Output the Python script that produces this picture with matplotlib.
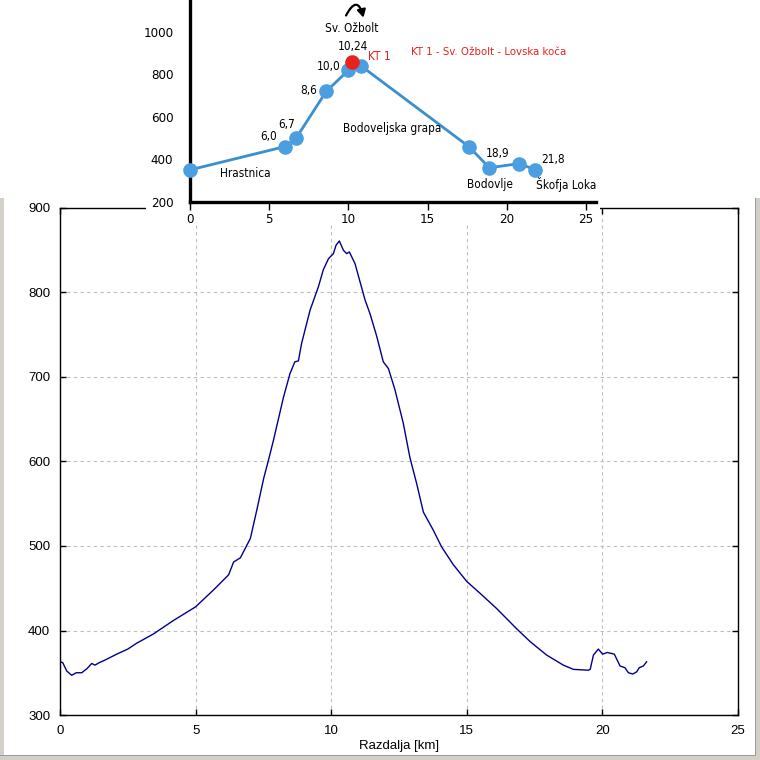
import matplotlib
matplotlib.use("Agg")
import matplotlib.pyplot as plt
from matplotlib.patches import Rectangle

# elevation profile (bottom chart)
profile_km = [0.0, 0.1, 0.25, 0.43, 0.6, 0.8, 1.0, 1.17, 1.29, 1.45, 1.66, 2.09, 2.5,
              2.83, 3.45, 4.19, 5.0, 5.66, 6.22, 6.40, 6.65, 7.02, 7.26, 7.51, 7.69,
              7.87, 8.24, 8.48, 8.66, 8.79, 8.91, 9.22, 9.53, 9.71, 9.90, 10.08, 10.18,
              10.30, 10.45, 10.57, 10.67, 10.88, 11.06, 11.25, 11.43, 11.68, 11.92,
              12.11, 12.35, 12.66, 12.90, 13.15, 13.40, 13.76, 14.07, 14.50, 15.0,
              15.49, 16.10, 16.84, 17.33, 17.94, 18.56, 18.93, 19.48, 19.55, 19.67,
              19.85, 20.01, 20.18, 20.44, 20.65, 20.83, 20.96, 21.12, 21.26, 21.36,
              21.51, 21.63]
profile_m = [363, 362, 352, 347, 350, 350, 355, 361, 359, 362, 365, 372, 378,
             385, 396, 412, 428, 448, 466, 481, 486, 509, 543, 580, 602,
             625, 676, 704, 718, 719, 740, 779, 807, 827, 840, 846, 856,
             861, 850, 846, 848, 834, 813, 791, 775, 748, 718,
             710, 685, 645, 605, 574, 540, 519, 499, 478, 458,
             444, 426, 402, 387, 371, 359, 354, 353, 354, 371,
             378, 372, 374, 372, 358, 356, 350, 348.5, 351, 356,
             358, 363]
profile_xticks = [0, 5, 10, 15, 20, 25]
profile_yticks = [300, 400, 500, 600, 700, 800, 900]

# schematic route (inset)
route_km = [0, 6.0, 6.7, 8.6, 10.0, 10.8, 17.6, 18.9, 20.8, 21.8]
route_m = [350, 460, 500, 720, 820, 840, 460, 360, 380, 350]
kt_km, kt_m = 10.24, 860
route_labels = {1: "6,0", 2: "6,7", 3: "8,6", 4: "10,0", 7: "18,9", 9: "21,8"}
label_offsets = {1: (-16, 10), 2: (-10, 14), 3: (-18, 1), 4: (-20, 4), 7: (8, 14), 9: (18, 10)}
inset_xticks = [0, 5, 10, 15, 20, 25]
inset_yticks = [200, 400, 600, 800, 1000]

W = H = 760
fig = plt.figure(figsize=(7.6, 7.6), dpi=100)
fig.patch.set_facecolor("white")


def fbox(x0, y0, x1, y1):
    # pixel box (top-left origin) -> figure fraction rect
    return [x0 / W, 1 - y1 / H, (x1 - x0) / W, (y1 - y0) / H]


# ---- bottom chart ----
ax = fig.add_axes(fbox(60, 208, 738, 715))
ax.plot(profile_km, profile_m, color="#00008b", lw=1.0)
ax.set_xlim(0, 25)
ax.set_ylim(300, 900)
ax.set_xticks(profile_xticks)
ax.set_yticks(profile_yticks)
ax.grid(True, color="#bdbdbd", linestyle=(0, (3, 3)), linewidth=0.8)
ax.tick_params(direction="in", top=True, right=True, length=4, width=1,
               labelsize=9.5, pad=7, labelfontfamily="Liberation Sans")
for s in ax.spines.values():
    s.set_linewidth(1.0)
ax.set_xlabel("Razdalja [km]", fontsize=9.5, family="Liberation Sans", labelpad=2)

# white sheet behind the pasted inset
fig.patches.append(Rectangle((146 / W, 1 - 222 / H), (600 - 146) / W, 222 / H,
                             transform=fig.transFigure, facecolor="white",
                             edgecolor="none", zorder=1))

# window frame
frame = [((0, 198, 4, 760), "#d4d0c8"), ((755, 198, 760, 760), "#d4d0c8"),
         ((0, 755, 760, 760), "#d4d0c8"), ((755, 198, 756, 756), "#9a9a9a"),
         ((0, 755, 756, 756), "#9a9a9a")]
for (x0, y0, x1, y1), c in frame:
    fig.patches.append(Rectangle((x0 / W, 1 - y1 / H), (x1 - x0) / W, (y1 - y0) / H,
                                 transform=fig.transFigure, facecolor=c,
                                 edgecolor="none", zorder=1))

# ---- inset ----
nar = "DejaVu Sans"
ia = fig.add_axes(fbox(190, 0, 595.5, 201.7), zorder=2)
ia.patch.set_alpha(0)
ia.set_xlim(0, 25.6)
ia.set_ylim(200, 1151)
ia.plot(route_km, route_m, color="#3a8fd0", lw=2, marker="o", ms=9.5,
        mfc="#4b9fe0", mec="#4b9fe0", clip_on=False, zorder=3)
ia.plot([kt_km], [kt_m], "o", ms=9.5, color="#e8231b", clip_on=False, zorder=4)
for s in ["top", "right"]:
    ia.spines[s].set_visible(False)
for s in ["left", "bottom"]:
    ia.spines[s].set_linewidth(2.4)
ia.set_xticks(inset_xticks)
ia.set_yticks(inset_yticks)
ia.tick_params(axis="x", direction="out", length=6, width=1, pad=2)
ia.tick_params(axis="y", length=0, pad=12)
for lbl in ia.get_xticklabels() + ia.get_yticklabels():
    lbl.set_family(nar)
    lbl.set_fontstretch("condensed")
    lbl.set_fontsize(9.5)

tk = dict(fontsize=8.5, family=nar, fontstretch="condensed", ha="center", va="center")
for i, txt in route_labels.items():
    ia.annotate(txt, (route_km[i], route_m[i]), xytext=label_offsets[i],
                textcoords="offset pixels", **tk)
ia.annotate("10,24", (kt_km, kt_m), xytext=(1, 15), textcoords="offset pixels", **tk)
ia.annotate("KT 1", (kt_km, kt_m), xytext=(16, 5), textcoords="offset pixels",
            color="#e8231b", fontsize=8.5, family=nar, fontstretch="condensed",
            ha="left", va="center")
ia.text(10.23, 1015, "Sv. Ožbolt", **tk)
# curved arrow above the summit name
ia.annotate("", xy=(10.95, 1068), xytext=(9.85, 1078), annotation_clip=False,
            arrowprops=dict(arrowstyle="-|>,head_length=0.45,head_width=0.25",
                            connectionstyle="arc3,rad=-1.3", lw=1.6, color="black",
                            shrinkA=0, shrinkB=0))
ia.text(18.88, 906, "KT 1 - Sv. Ožbolt - Lovska koča", color="#e8231b",
        fontsize=8.2, family=nar, fontstretch="condensed", ha="center", va="center")
ia.text(12.75, 543, "Bodoveljska grapa", **tk)
ia.text(3.47, 335, "Hrastnica", **tk)
ia.text(18.94, 283, "Bodovlje", **tk)
ia.text(23.74, 283, "Škofja Loka", **tk)

fig.savefig("out.png", dpi=100)
